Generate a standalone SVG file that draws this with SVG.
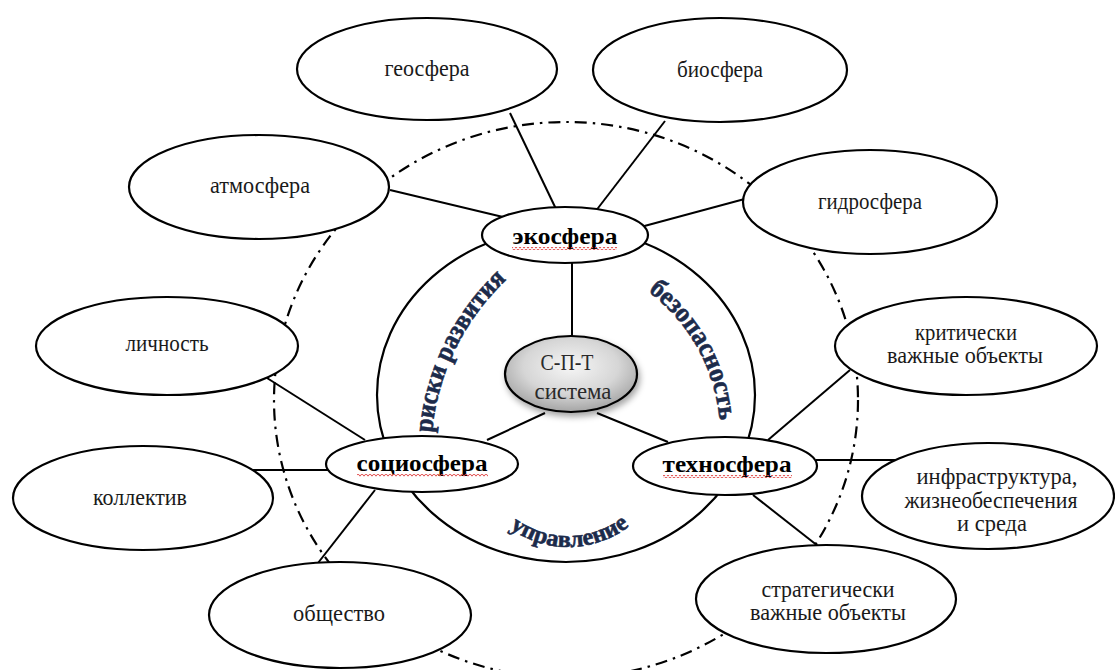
<svg xmlns="http://www.w3.org/2000/svg" width="1115" height="670" viewBox="0 0 1115 670">
<style>
.node{fill:#fff;stroke:#000;stroke-width:2.2}
.lbl{font-family:"Liberation Serif","DejaVu Serif",serif;font-size:23px;fill:#1a1a1a;text-anchor:middle}
.bold{font-family:"Liberation Serif","DejaVu Serif",serif;font-size:24px;font-weight:bold;fill:#000;text-anchor:middle}
.curve{font-family:"Liberation Serif","DejaVu Serif",serif;font-size:27px;font-weight:bold;fill:#1c2b4b;stroke:#1c2b4b;stroke-width:0.6;text-anchor:middle}
.conn line{stroke:#000;stroke-width:2}
.wavy{fill:url(#wave)}
</style>
<defs>
<radialGradient id="sptGrad" cx="50%" cy="40%" r="60%">
<stop offset="0" stop-color="#f6f6f6"/>
<stop offset="0.6" stop-color="#d6d6d6"/>
<stop offset="1" stop-color="#a4a4a4"/>
</radialGradient>
<filter id="shadow" x="-30%" y="-30%" width="160%" height="170%">
<feDropShadow dx="2" dy="4" stdDeviation="3" flood-color="#000" flood-opacity="0.35"/>
</filter>
<pattern id="wave" width="4" height="3" patternUnits="userSpaceOnUse">
<path d="M0 2.4 L1 0.6 L3 0.6 L4 2.4" fill="none" stroke="#e04848" stroke-width="0.9"/>
</pattern>
<path id="pRiski" d="M431.9,434 A241,241 0 0 1 507.6,278.7"/>
<path id="pBezop" d="M635.9,283.2 A179,179 0 0 1 720,435"/>
<path id="pUpr" d="M503.7,523.6 A100,100 0 0 0 634.9,521.3"/>
</defs>
<rect width="1115" height="670" fill="#fff"/>
<g id="outer-boundary">
<ellipse cx="566" cy="400" rx="292" ry="278" fill="none" stroke="#000" stroke-width="2.2" stroke-dasharray="12 6 2.5 6"/>
</g>
<g id="inner-boundary">
<ellipse cx="566" cy="395" rx="189" ry="167" fill="none" stroke="#000" stroke-width="2.2"/>
</g>
<g id="connectors" class="conn">
<line x1="390" y1="190" x2="503" y2="217"/>
<line x1="510" y1="113" x2="556" y2="209"/>
<line x1="665" y1="121" x2="595" y2="212"/>
<line x1="752" y1="197" x2="637" y2="228"/>
<line x1="572" y1="262" x2="572" y2="337"/>
<line x1="545" y1="413" x2="487" y2="440"/>
<line x1="597" y1="413" x2="668" y2="442"/>
<line x1="267" y1="378" x2="365" y2="440"/>
<line x1="253" y1="470" x2="329" y2="470"/>
<line x1="375" y1="490" x2="318" y2="563"/>
<line x1="850" y1="370" x2="768" y2="440"/>
<line x1="816" y1="460" x2="896" y2="460"/>
<line x1="753" y1="495" x2="818" y2="546"/>
</g>
<g id="curved-labels">
<text class="curve"><textPath href="#pRiski" startOffset="50%" textLength="174" lengthAdjust="spacingAndGlyphs">риски развития</textPath></text>
<text class="curve"><textPath href="#pBezop" startOffset="50%" textLength="152" lengthAdjust="spacingAndGlyphs">безопасность</textPath></text>
<text class="curve" style="font-size:24px"><textPath href="#pUpr" startOffset="50%" textLength="128" lengthAdjust="spacingAndGlyphs">управление</textPath></text>
</g>
<g id="geosfera"><ellipse class="node" cx="427" cy="69" rx="130" ry="51"/><text class="lbl" x="427" y="76" textLength="85" lengthAdjust="spacingAndGlyphs">геосфера</text></g>
<g id="biosfera"><ellipse class="node" cx="720" cy="70" rx="127" ry="52"/><text class="lbl" x="720" y="77" textLength="86" lengthAdjust="spacingAndGlyphs">биосфера</text></g>
<g id="atmosfera"><ellipse class="node" cx="259" cy="187" rx="130" ry="52"/><text class="lbl" x="260" y="193" textLength="100" lengthAdjust="spacingAndGlyphs">атмосфера</text></g>
<g id="gidrosfera"><ellipse class="node" cx="870" cy="202" rx="127" ry="52"/><text class="lbl" x="870" y="209" textLength="104" lengthAdjust="spacingAndGlyphs">гидросфера</text></g>
<g id="ekosfera"><ellipse class="node" cx="565" cy="235" rx="83" ry="28"/><text class="bold" x="565" y="244" textLength="105" lengthAdjust="spacingAndGlyphs">экосфера</text><rect class="wavy" x="512" y="247" width="105" height="3"/></g>
<g id="lichnost"><ellipse class="node" cx="167" cy="346" rx="131" ry="49"/><text class="lbl" x="167" y="351" textLength="83" lengthAdjust="spacingAndGlyphs">личность</text></g>
<g id="kriticheski"><ellipse class="node" cx="966" cy="346" rx="131" ry="49"/><text class="lbl" x="966" y="340" textLength="102" lengthAdjust="spacingAndGlyphs">критически</text><text class="lbl" x="965" y="363" textLength="156" lengthAdjust="spacingAndGlyphs">важные  объекты</text></g>
<g id="spt-sistema"><ellipse cx="571" cy="374" rx="66" ry="38" fill="url(#sptGrad)" stroke="#000" stroke-width="2.2" filter="url(#shadow)"/><text class="lbl" x="567" y="370" style="font-size:23px;fill:#2a2a2a" textLength="53" lengthAdjust="spacingAndGlyphs">С-П-Т</text><text class="lbl" x="573" y="399" style="font-size:23px;fill:#2a2a2a" textLength="77" lengthAdjust="spacingAndGlyphs">система</text></g>
<g id="sotsiosfera"><ellipse class="node" cx="422" cy="464" rx="96" ry="28"/><text class="bold" x="422" y="471" textLength="131" lengthAdjust="spacingAndGlyphs">социосфера</text><rect class="wavy" x="357" y="474" width="131" height="3"/></g>
<g id="tehnosfera"><ellipse class="node" cx="725" cy="466" rx="92" ry="29"/><text class="bold" x="727" y="472" textLength="129" lengthAdjust="spacingAndGlyphs">техносфера</text><rect class="wavy" x="663" y="475" width="129" height="3"/></g>
<g id="kollektiv"><ellipse class="node" cx="143" cy="498" rx="130" ry="52"/><text class="lbl" x="140" y="505" textLength="94" lengthAdjust="spacingAndGlyphs">коллектив</text></g>
<g id="infrastruktura"><ellipse class="node" cx="988" cy="496" rx="126" ry="53"/><text class="lbl" x="997" y="484" textLength="161" lengthAdjust="spacingAndGlyphs">инфраструктура,</text><text class="lbl" x="991" y="508" textLength="173" lengthAdjust="spacingAndGlyphs">жизнеобеспечения</text><text class="lbl" x="992" y="531" textLength="70" lengthAdjust="spacingAndGlyphs">и среда</text></g>
<g id="obshchestvo"><ellipse class="node" cx="340" cy="615" rx="131" ry="53"/><text class="lbl" x="339" y="621" textLength="92" lengthAdjust="spacingAndGlyphs">общество</text></g>
<g id="strategicheski"><ellipse class="node" cx="826" cy="599" rx="130" ry="54"/><text class="lbl" x="828" y="597" textLength="133" lengthAdjust="spacingAndGlyphs">стратегически</text><text class="lbl" x="828" y="620" textLength="156" lengthAdjust="spacingAndGlyphs">важные  объекты</text></g>
</svg>
